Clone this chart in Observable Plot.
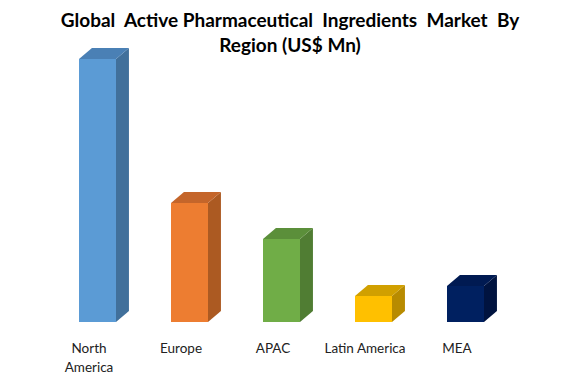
<!DOCTYPE html>
<html>
<head>
<meta charset="utf-8">
<script src="https://cdn.jsdelivr.net/npm/d3@7"></script>
<script src="https://cdn.jsdelivr.net/npm/@observablehq/plot@0.6"></script>
<style>
  html, body { margin: 0; padding: 0; background: #fff; }
  #wrap { position: relative; width: 576px; height: 384px; overflow: hidden; }
  #title {
    position: absolute; left: 0; top: 7px; width: 580px; text-align: center;
    font-family: Lato, "Liberation Sans", sans-serif; font-weight: bold;
    font-size: 19px; line-height: 25px; color: #000; white-space: pre; z-index: 2;
  }
  #chart { position: absolute; left: 0; top: 0; }
</style>
</head>
<body>
<div id="wrap">
  <div id="title">Global  Active Pharmaceutical  Ingredients  Market  By
Region (US$ Mn)</div>
  <div id="chart"></div>
</div>
<script>
// Data (relative bar heights)
const regions = ["North America", "Europe", "APAC", "Latin America", "MEA"];
const values = [263, 119, 83, 26, 36];
const tickLabels = ["North\nAmerica", "Europe", "APAC", "Latin America", "MEA"];

// Styles
const frontColors = ["#5B9BD5", "#ED7D31", "#70AD47", "#FFC000", "#002060"];
const sideColors  = ["#41709B", "#AC5A22", "#507D33", "#B88B00", "#00133F"];
const topColors   = ["#4A80B5", "#C4652A", "#5B8F3A", "#D1A000", "#001A52"];

const data = regions.map((region, i) => ({region, value: values[i]}));
const labelOf = new Map(regions.map((r, i) => [r, tickLabels[i]]));
const idx = new Map(regions.map((r, i) => [r, i]));

// 3D depth faces drawn through Plot's scales
const depthFaces = Plot.dot(data, {
  x: "region",
  y: "value",
  render(index, scales, values_, dimensions, context) {
    const {x, y} = scales;
    const bw = x.bandwidth();
    const dx = bw * 0.35, dy = dx * 0.85;
    const g = d3.create("svg:g");
    const y0 = y(0);
    for (const i of index) {
      const d = data[i];
      const k = idx.get(d.region);
      const x0 = x(d.region), x1 = x0 + bw, yt = y(d.value);
      // side face
      g.append("polygon")
        .attr("points", [[x1, y0], [x1 + dx, y0 - dy], [x1 + dx, yt - dy], [x1, yt]].join(" "))
        .attr("fill", sideColors[k]);
      // top face
      g.append("polygon")
        .attr("points", [[x0, yt], [x0 + dx, yt - dy], [x1 + dx, yt - dy], [x1, yt]].join(" "))
        .attr("fill", topColors[k]);
    }
    return g.node();
  }
});

const chart = Plot.plot({
  width: 576,
  height: 384,
  marginTop: 59,
  marginBottom: 62,
  marginLeft: 21,
  marginRight: 35,
  style: {fontFamily: "Lato, 'Liberation Sans', sans-serif", background: "transparent"},
  x: {domain: regions, padding: 0.6, label: null},
  y: {domain: [0, 263], axis: null},
  color: {domain: regions, range: frontColors},
  marks: [
    depthFaces,
    Plot.rectY(data, {x: "region", y: "value", fill: "region"}),
    Plot.axisX({
      tickSize: 0,
      tickPadding: 18,
      dx: -9,
      fontSize: 13.5,
      lineHeight: 1.35,
      fill: "#222",
      tickFormat: (d) => labelOf.get(d),
      label: null
    })
  ]
});
document.getElementById("chart").appendChild(chart);
</script>
</body>
</html>
